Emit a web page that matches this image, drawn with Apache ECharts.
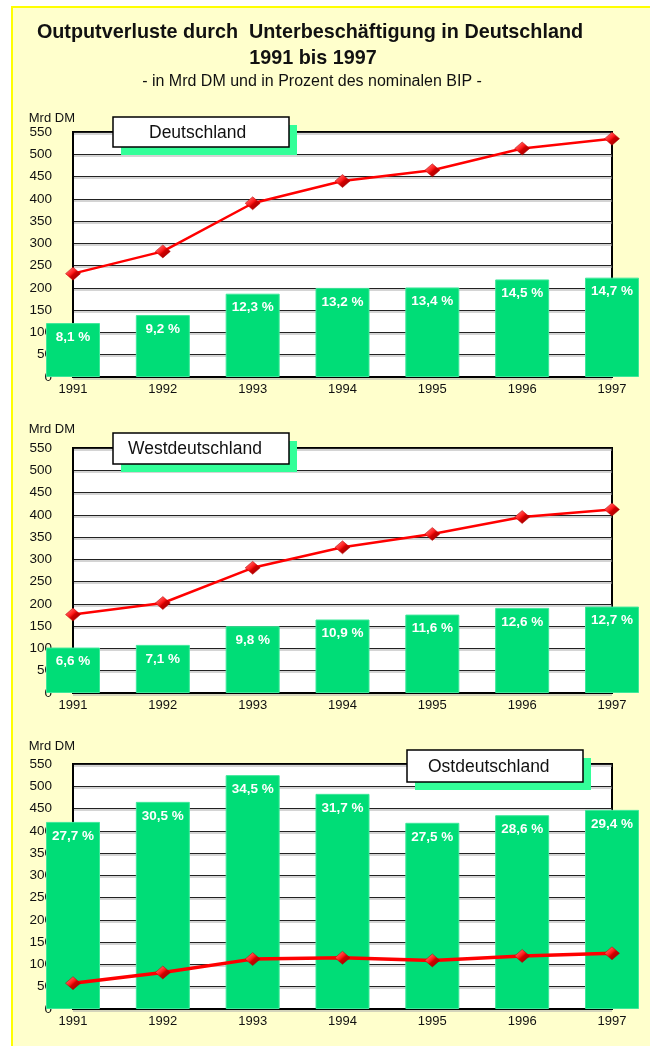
<!DOCTYPE html>
<html>
<head>
<meta charset="utf-8">
<script src="https://cdn.jsdelivr.net/npm/echarts@6/dist/echarts.min.js"></script>
<style>
html,body{margin:0;padding:0;background:#fff;}
#c{width:650px;height:1046px;}
</style>
</head>
<body>
<div id="c"></div>
<script>
// ---- data ----
const years = ['1991', '1992', '1993', '1994', '1995', '1996', '1997'];
const panelNames = ['Deutschland', 'Westdeutschland', 'Ostdeutschland'];
// Outputverluste in Mrd DM (line)
const lossDE = [232, 282, 390, 440, 464, 513, 535];
const lossWest = [176, 202, 281, 327, 357, 395, 412];
const lossEast = [58, 82, 112, 115, 109, 119, 125];
// bar heights (same scale)
const barDE = [121, 139, 187, 200, 201, 219, 223];
const barWest = [102, 108, 150, 165, 176, 191, 194];
const barEast = [420, 465, 525, 483, 418, 435, 447];
// percent of nominal BIP (bar labels)
const pctDE = ['8,1', '9,2', '12,3', '13,2', '13,4', '14,5', '14,7'];
const pctWest = ['6,6', '7,1', '9,8', '10,9', '11,6', '12,6', '12,7'];
const pctEast = ['27,7', '30,5', '34,5', '31,7', '27,5', '28,6', '29,4'];
const yMin = 0, yMax = 550, yStep = 50;

const lines = [lossDE, lossWest, lossEast];
const bars = [barDE, barWest, barEast];
const pcts = [pctDE, pctWest, pctEast];

// ---- layout ----
const FONT = '"Liberation Sans", Arial, sans-serif';
const gridTops = [132, 448, 764];
const gridH = 245;
const nameGaps = [4, 12, 11];
const boxes = [
  {x: 113, y: 117, w: 176, h: 30, tx: 149},
  {x: 113, y: 433, w: 176, h: 31, tx: 128},
  {x: 407, y: 750, w: 176, h: 32, tx: 428}
];
const lineWidths = [2.5, 2.5, 3.5];

const chart = echarts.init(document.getElementById('c'), null, {renderer: 'canvas'});

const diamondFill = new echarts.graphic.LinearGradient(0, 0, 1, 1, [
  {offset: 0, color: '#ff9a9a'},
  {offset: 0.45, color: '#ff1a1a'},
  {offset: 0.55, color: '#d00000'},
  {offset: 1, color: '#8a0000'}
]);

const grids = [], xAxes = [], yAxes = [], series = [], graphics = [];

graphics.push({type: 'rect', z: 200, shape: {x: 0, y: 0, width: 12, height: 1046}, style: {fill: '#fff'}, silent: true});
graphics.push({type: 'rect', z: 200, shape: {x: 0, y: 0, width: 650, height: 7}, style: {fill: '#fff'}, silent: true});
graphics.push({type: 'polyline', z: 201, shape: {points: [[12, 1046], [12, 7], [650, 7]]}, style: {stroke: '#ffff00', lineWidth: 2, fill: null}, silent: true});

for (let i = 0; i < 3; i++) {
  grids.push({left: 73, right: 38, top: gridTops[i], height: gridH, show: true,
    backgroundColor: '#fff', borderColor: '#000', borderWidth: 2});
  xAxes.push({type: 'category', gridIndex: i, data: years, boundaryGap: false,
    axisLine: {show: true, lineStyle: {color: '#000', width: 2}},
    axisTick: {show: false},
    axisLabel: {color: '#111', fontFamily: FONT, fontSize: 13, margin: 6},
    splitLine: {show: false}});
  yAxes.push({type: 'value', gridIndex: i, min: yMin, max: yMax, interval: yStep,
    name: 'Mrd DM', nameLocation: 'end', nameGap: nameGaps[i],
    nameTextStyle: {color: '#111', fontFamily: FONT, fontSize: 13, align: 'right', padding: [0, -2, 0, 0]},
    axisLine: {show: true, lineStyle: {color: '#000', width: 2}},
    axisTick: {show: false},
    axisLabel: {color: '#111', fontFamily: FONT, fontSize: 13.5, margin: 21},
    splitLine: {show: true, lineStyle: {color: '#222', width: 1.2, shadowColor: '#aaa', shadowOffsetY: 1.5, shadowBlur: 0}}});
  const p = pcts[i];
  series.push({type: 'bar', xAxisIndex: i, yAxisIndex: i, data: bars[i], barWidth: 54, clip: false, z: 3,
    itemStyle: {color: '#00dd77', borderColor: '#3de89a', borderWidth: 1},
    label: {show: true, position: 'insideTop', distance: 7, color: '#fff', fontFamily: FONT,
      fontSize: 13.5, fontWeight: 'bold', formatter: (d) => p[d.dataIndex] + ' %'}});
  series.push({type: 'line', xAxisIndex: i, yAxisIndex: i, data: lines[i], clip: false, z: 4,
    lineStyle: {color: '#ff0000', width: lineWidths[i]},
    symbol: 'diamond', symbolSize: [15, 13], showAllSymbol: true,
    itemStyle: {color: diamondFill, borderColor: '#b00000', borderWidth: 0.5}});
  const b = boxes[i];
  graphics.push({type: 'rect', z: 150, shape: {x: b.x + 8, y: b.y + 8, width: b.w, height: b.h}, style: {fill: '#33ff99'}, silent: true});
  graphics.push({type: 'rect', z: 151, shape: {x: b.x, y: b.y, width: b.w, height: b.h}, style: {fill: '#fff', stroke: '#000', lineWidth: 1.5}, silent: true});
  graphics.push({type: 'text', z: 152, x: b.tx, y: b.y + b.h / 2 + 1, style: {text: panelNames[i], fill: '#111', font: '17.5px ' + FONT, textVerticalAlign: 'middle', verticalAlign: 'middle'}, silent: true});
}

chart.setOption({
  animation: false,
  backgroundColor: '#ffffcc',
  textStyle: {fontFamily: FONT},
  title: [
    {text: 'Outputverluste durch  Unterbeschäftigung in Deutschland', left: 305, textAlign: 'center', top: 18,
      textStyle: {fontFamily: FONT, fontSize: 19.8, fontWeight: 'bold', color: '#111'}},
    {text: '1991 bis 1997', left: 308, textAlign: 'center', top: 44,
      textStyle: {fontFamily: FONT, fontSize: 19.8, fontWeight: 'bold', color: '#111'}},
    {text: '- in Mrd DM und in Prozent des nominalen BIP -', left: 307, textAlign: 'center', top: 69,
      textStyle: {fontFamily: FONT, fontSize: 16, fontWeight: 'normal', color: '#111'}}
  ],
  grid: grids,
  xAxis: xAxes,
  yAxis: yAxes,
  series: series,
  graphic: graphics
});
</script>
</body>
</html>
